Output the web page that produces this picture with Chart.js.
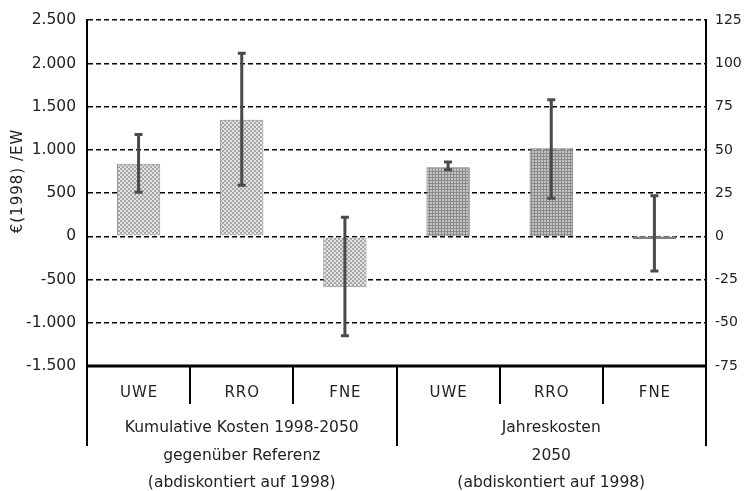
<!DOCTYPE html>
<html>
<head>
<meta charset="utf-8">
<script src="https://cdn.jsdelivr.net/npm/chart.js@4/dist/chart.umd.min.js"></script>
<style>
  html, body { margin: 0; padding: 0; background: #fff; }
  #wrap { width: 750px; height: 491px; position: relative; }
</style>
</head>
<body>
<div id="wrap"><canvas id="c"></canvas></div>
<script>
// Categories and group captions
const categories = ['UWE', 'RRO', 'FNE', 'UWE', 'RRO', 'FNE'];
const groupCaptions = [
  ['Kumulative Kosten 1998-2050', 'gegenüber Referenz', '(abdiskontiert auf 1998)'],
  ['Jahreskosten', '2050', '(abdiskontiert auf 1998)']
];
const yTitle = '€(1998) /EW';

// Cumulative costs 1998-2050 (left axis, €/EW)
const cumulativeValues = [840, 1350, -590, null, null, null];
const cumulativeLow    = [510, 590, -1150, null, null, null];
const cumulativeHigh   = [1180, 2120, 220, null, null, null];

// Annual costs 2050 (right axis, €/EW)
const annualValues = [null, null, null, 40, 51, -1.5];
const annualLow    = [null, null, null, 38.5, 22, -20];
const annualHigh   = [null, null, null, 43, 79, 23.5];

// Axis ranges
const leftMin = -1500, leftMax = 2500, leftStep = 500;
const rightMin = -75, rightMax = 125, rightStep = 25;

function deNumber(v) {
  const s = Math.abs(v).toString().replace(/\B(?=(\d{3})+(?!\d))/g, '.');
  return (v < 0 ? '-' : '') + s;
}

// Hatch fills for the two groups
function dotPattern() {
  const c = document.createElement('canvas');
  c.width = 4; c.height = 4;
  const g = c.getContext('2d');
  g.fillStyle = '#e2e2e2'; g.fillRect(0, 0, 4, 4);
  g.fillStyle = '#a6a6a6';
  g.fillRect(0, 0, 2, 2); g.fillRect(2, 2, 2, 2);
  return g.createPattern(c, 'repeat');
}
function gridPattern() {
  const c = document.createElement('canvas');
  c.width = 3; c.height = 3;
  const g = c.getContext('2d');
  g.fillStyle = '#c4c4c4'; g.fillRect(0, 0, 3, 3);
  g.fillStyle = '#8a8a8a';
  g.fillRect(0, 0, 3, 1); g.fillRect(0, 0, 1, 3);
  return g.createPattern(c, 'repeat');
}

const FONT = '"DejaVu Sans", sans-serif';
const TEXT = '#222';

// Error whiskers drawn from the low/high arrays through the dataset scales
const errorBars = {
  id: 'errorBars',
  afterDraw(chart) {
    const ctx = chart.ctx;
    chart.data.datasets.forEach((ds, di) => {
      const meta = chart.getDatasetMeta(di);
      const scale = chart.scales[ds.yAxisID];
      ds.data.forEach((v, i) => {
        if (v === null || ds.errLow[i] === null) return;
        const x = meta.data[i].x;
        const yLo = scale.getPixelForValue(ds.errLow[i]);
        const yHi = scale.getPixelForValue(ds.errHigh[i]);
        ctx.save();
        ctx.strokeStyle = '#4a4a4a';
        ctx.lineWidth = 3;
        ctx.beginPath();
        ctx.moveTo(x, yLo); ctx.lineTo(x, yHi);
        ctx.moveTo(x - 4, yLo); ctx.lineTo(x + 4, yLo);
        ctx.moveTo(x - 4, yHi); ctx.lineTo(x + 4, yHi);
        ctx.stroke();
        ctx.restore();
      });
    });
  }
};

// Category table below the plot, axis line, separators and the y title
const categoryTable = {
  id: 'categoryTable',
  afterDraw(chart) {
    const ctx = chart.ctx;
    const area = chart.chartArea;
    const xs = chart.scales.x;
    const n = categories.length;
    const step = xs.getPixelForValue(1) - xs.getPixelForValue(0);
    const edge = i => xs.getPixelForValue(i) - step / 2;
    const base = area.bottom;
    const shortBottom = base + 38;
    const longBottom = base + 80;

    ctx.save();
    ctx.strokeStyle = '#000';
    // vertical separators
    ctx.lineWidth = 2;
    ctx.beginPath();
    for (let i = 0; i <= n; i++) {
      const x = Math.round(edge(i));
      const isLong = (i === 0 || i === 3 || i === n);
      ctx.moveTo(x, base);
      ctx.lineTo(x, isLong ? longBottom : shortBottom);
    }
    ctx.stroke();
    // base line
    ctx.lineWidth = 3;
    ctx.beginPath();
    ctx.moveTo(area.left - 1, base);
    ctx.lineTo(area.right + 1, base);
    ctx.stroke();

    // category labels
    ctx.fillStyle = TEXT;
    ctx.font = '15px ' + FONT;
    ctx.textAlign = 'center';
    ctx.textBaseline = 'middle';
    try { ctx.letterSpacing = '1px'; } catch (e) {}
    categories.forEach((c, i) => {
      ctx.fillText(c, xs.getPixelForValue(i) + 0.5, base + 27);
    });
    try { ctx.letterSpacing = '0px'; } catch (e) {}

    // group captions
    ctx.font = '15.5px ' + FONT;
    const groups = [[0, 3], [3, 6]];
    groups.forEach((g, gi) => {
      const cx = (edge(g[0]) + edge(g[1])) / 2;
      groupCaptions[gi].forEach((line, li) => {
        ctx.fillText(line, cx, base + 62 + li * 27.5);
      });
    });

    // rotated y title
    ctx.translate(18, 181);
    ctx.rotate(-Math.PI / 2);
    ctx.font = '15px ' + FONT;
    try { ctx.letterSpacing = '1px'; } catch (e) {}
    ctx.fillText(yTitle, 0, 0);
    ctx.restore();
  }
};

const ctx = document.getElementById('c').getContext('2d');
new Chart(ctx, {
  type: 'bar',
  data: {
    labels: categories,
    datasets: [
      {
        label: 'Kumulative Kosten',
        data: cumulativeValues,
        errLow: cumulativeLow,
        errHigh: cumulativeHigh,
        yAxisID: 'y',
        backgroundColor: dotPattern(),
        borderColor: '#8c8c8c',
        borderWidth: 1,
        grouped: false
      },
      {
        label: 'Jahreskosten',
        data: annualValues,
        errLow: annualLow,
        errHigh: annualHigh,
        yAxisID: 'y1',
        backgroundColor: gridPattern(),
        borderColor: '#7a7a7a',
        borderWidth: 1,
        grouped: false
      }
    ]
  },
  options: {
    responsive: true,
    maintainAspectRatio: false,
    animation: false,
    devicePixelRatio: 1,
    layout: { padding: { top: 11, bottom: 125, left: 0, right: 0 } },
    categoryPercentage: 1,
    barPercentage: 0.42,
    plugins: {
      legend: { display: false },
      tooltip: { enabled: false }
    },
    scales: {
      x: {
        display: false,
        offset: true
      },
      y: {
        position: 'left',
        min: leftMin,
        max: leftMax,
        z: 1,
        afterFit(s) { s.width = 87; },
        ticks: {
          stepSize: leftStep,
          padding: 11,
          color: TEXT,
          font: { family: FONT, size: 15.5 },
          callback: v => deNumber(v)
        },
        grid: {
          color: '#000',
          lineWidth: 1.6,
          drawTicks: false
        },
        border: { display: true, color: '#000', width: 2, dash: [5, 3] }
      },
      y1: {
        position: 'right',
        min: rightMin,
        max: rightMax,
        afterFit(s) { s.width = 44; },
        ticks: {
          stepSize: rightStep,
          padding: 9,
          color: TEXT,
          font: { family: FONT, size: 14 }
        },
        grid: { display: false, drawTicks: false },
        border: { display: true, color: '#000', width: 2 }
      }
    }
  },
  plugins: [errorBars, categoryTable]
});
</script>
</body>
</html>
